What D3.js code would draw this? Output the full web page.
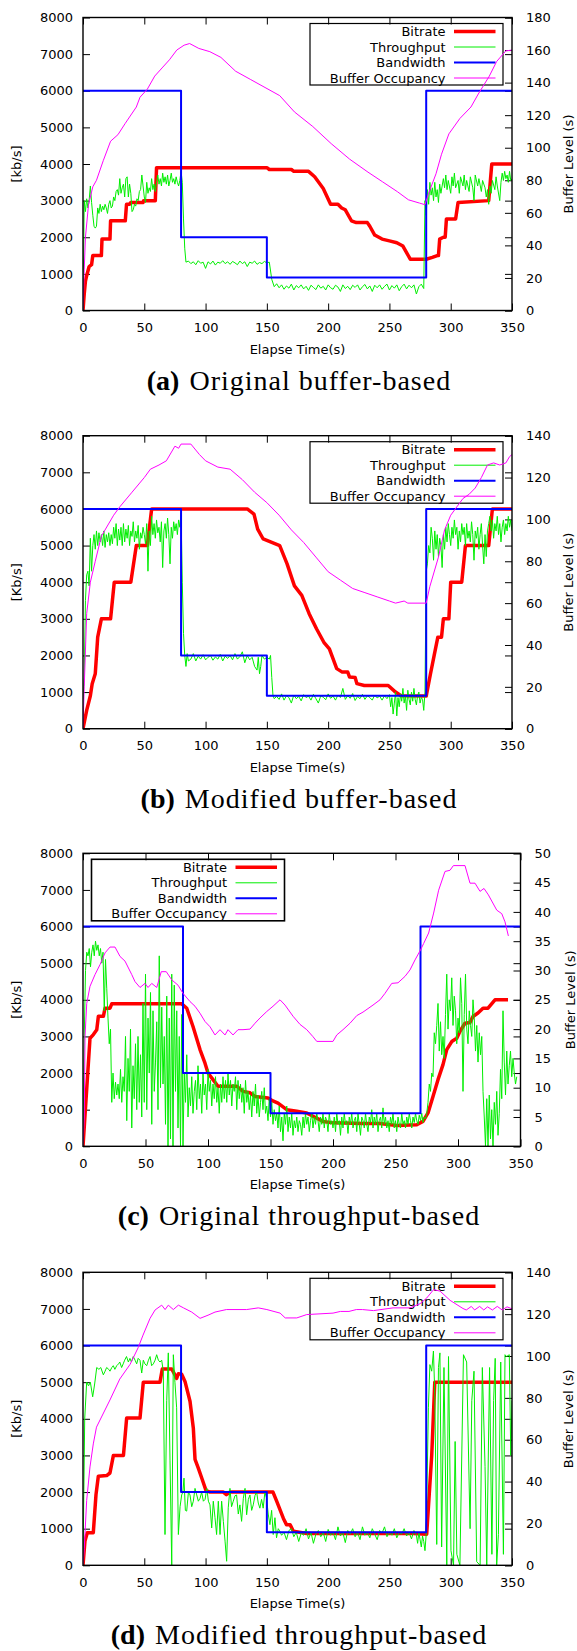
<!DOCTYPE html>
<html>
<head>
<meta charset="utf-8">
<script src="https://cdn.jsdelivr.net/npm/d3@7/dist/d3.min.js"></script>
<style>
  body { margin: 0; background: #fff; }
  text { font-family: "DejaVu Sans", sans-serif; }
</style>
</head>
<body>
<svg id="chart" width="577" height="1651"></svg>
<script>
// ---- data: [time (s), value] ----
const xTicks = [0, 50, 100, 150, 200, 250, 300, 350]
const yTicks = [0, 1000, 2000, 3000, 4000, 5000, 6000, 7000, 8000]
const seriesNames = ["Bitrate", "Throughput", "Bandwidth", "Buffer Occupancy"]

// (a) original buffer-based
const aBitrate = [[0,0],[1,450],[2,800],[3,950],[5,1200],[7,1250],[8,1500],[15,1500],[15.5,1950],[22,1950],[22.5,2450],[34.5,2450],[35.5,2900],[38,2900],[39,2950],[49,2950],[49.5,3000],[59,3000],[60,3900],[150,3900],[152,3850],[170,3850],[172,3800],[184,3800],[189,3650],[196,3330],[202,2900],[208,2900],[211,2800],[214,2750],[219,2450],[223,2400],[232,2400],[234,2300],[238,2060],[244,1950],[250,1900],[256,1850],[261,1760],[267,1400],[280,1400],[285,1450],[289,1500],[290,1500],[291,1950],[294,2000],[295.5,2000],[296.5,2500],[304,2500],[306,2950],[331,3000],[333.5,4000],[350,4000]]
const aThroughput = [[0,0],[1,3000],[2,2700],[3,3050],[4,2800],[5,3000],[6,3400],[7,2950],[8,2600],[9,2300],[10,2250],[11,2300],[12,2800],[13,2650],[14,2900],[15,2700],[16,2850],[17,2750],[18,2900],[19,2800],[20,2650],[21,2900],[22,3000],[23,2800],[24,2850],[25,3100],[26,3000],[27,3250],[28,3300],[29,3150],[30,3600],[31,3200],[32,3350],[33,3450],[34,3100],[35,3600],[36,3650],[37,3100],[38,3450],[39,3200],[40,2700],[41,2750],[42,2900],[43,2850],[44,3050],[45,3000],[46,3250],[47,3300],[48,3700],[49,3400],[50,3100],[51,2950],[52,3500],[53,3200],[54,3350],[55,3250],[56,3600],[57,3300],[58,3450],[59,3250],[60,3500],[61,3700],[62,3450],[63,3600],[64,3400],[65,3750],[66,3500],[67,3650],[68,3450],[69,3700],[70,3400],[71,3550],[72,3750],[73,3500],[74,3600],[75,3450],[76,3650],[77,3500],[78,3400],[79,3550],[80,3800],[81,3500],[82,2500],[83,1700],[84,1320],[86,1350],[88,1280],[90,1330],[92,1250],[94,1360],[96,1290],[98,1320],[100,1150],[102,1330],[104,1270],[106,1350],[108,1240],[110,1320],[112,1290],[114,1360],[116,1280],[118,1330],[120,1260],[122,1340],[124,1300],[126,1250],[128,1350],[130,1280],[132,1330],[134,1200],[136,1320],[138,1290],[140,1350],[142,1260],[144,1310],[146,1280],[148,1340],[150,1300],[152,1320],[154,850],[156,650],[158,730],[160,620],[162,700],[164,580],[166,670],[168,610],[170,720],[172,560],[174,680],[176,620],[178,700],[180,590],[182,660],[184,550],[186,690],[188,630],[190,570],[192,700],[194,610],[196,660],[198,560],[200,700],[202,620],[204,580],[206,690],[208,640],[210,520],[212,700],[214,600],[216,660],[218,570],[220,690],[222,630],[224,700],[226,560],[228,650],[230,710],[232,590],[234,670],[236,520],[238,690],[240,620],[242,700],[244,580],[246,660],[248,720],[250,560],[252,680],[254,610],[256,700],[258,540],[260,650],[262,720],[264,590],[266,690],[268,620],[270,700],[272,450],[274,650],[276,720],[278,600],[279,3000],[280,2600],[281,3300],[282,2900],[283,3500],[284,3150],[285,3350],[286,3000],[287,3500],[288,3100],[289,3300],[290,2950],[291,3450],[292,3200],[294,3600],[295,3350],[296,3700],[297,3300],[298,3550],[300,3200],[301,3650],[302,3400],[303,3750],[304,3350],[306,3550],[307,3200],[308,3650],[310,3400],[311,3700],[312,3300],[313,3550],[315,3250],[316,3650],[318,3350],[319,3000],[320,3700],[322,3400],[323,3600],[325,3250],[326,3550],[328,3350],[329,3100],[330,3300],[331,2900],[332,3400],[333,3200],[334,3550],[336,3300],[337,3650],[338,3400],[340,3000],[341,3500],[342,3750],[343,3550],[344,3800],[345,3600],[346,3700],[347,3500],[348,3800],[349,3550],[350,3600]]
const aBandwidth = [[0,6000],[80,2000],[150,900],[280,6000],[350,6000]]
const aBuffer = [[0,0],[1,25],[2,45],[4.5,65],[8,76],[11,80],[16.5,92],[22.5,104],[28.5,108],[34.5,115],[43.5,125],[46.5,131],[52.5,136],[58.5,144],[64.5,149],[70.5,154],[76.5,160],[82.5,163],[87,164],[94.5,161],[103.5,159],[112.5,155.5],[124.5,147],[136.5,142],[148.5,137],[160.5,132],[172.5,122],[187.5,113],[202.5,102.5],[217.5,93],[232.5,85],[244.5,79],[256.5,73],[265.5,68],[274.5,66],[279,65],[282,72],[288,84],[292.5,96],[298.5,108.5],[307.5,118],[316.5,125],[322.5,133],[331.5,144],[337.5,153],[345,159.5],[350,160]]

// (b) modified buffer-based
const bBitrate = [[0,0],[3,500],[6,900],[7.5,1230],[10,1500],[12,2500],[15,3000],[22.5,3000],[25.5,4000],[39,4000],[43.5,5000],[52.5,5000],[56,6000],[134,6000],[139.5,5860],[142.5,5450],[147,5180],[151.5,5120],[160.5,5000],[166.5,4500],[172.5,3900],[178.5,3640],[184.5,3140],[190.5,2730],[196.5,2360],[201,2180],[207,1640],[211.5,1545],[216,1545],[217.5,1410],[222,1400],[223.5,1230],[229.5,1180],[249,1180],[255,1000],[259.5,900],[280,890],[283.5,1500],[286.5,2000],[289.5,2500],[292.5,2500],[294,3000],[298.5,3000],[300,4000],[309,4000],[312,5000],[331,5000],[334,6000],[350,6000]]
const bThroughput = [[0,800],[1,1400],[2,3500],[3,4200],[4,4300],[5,3900],[6,5200],[7,4300],[8,5000],[9,5300],[10,4900],[11,5400],[12,5000],[13,5350],[14,5100],[15,5300],[16,5000],[17,5400],[18,4950],[19,5300],[20,5100],[21,5350],[22,5000],[23,5300],[24,5050],[25,5500],[26,5200],[27,5600],[28,5000],[29,5450],[30,5150],[31,5500],[32,5000],[33,5600],[34,5100],[35,5450],[36,5200],[37,5550],[38,5000],[39,5400],[40,5250],[41,5650],[42,5100],[43,5400],[44,5200],[45,5550],[46,4900],[47,5350],[48,5200],[49,5500],[50,5300],[51,5050],[52,5600],[53,4300],[54,5400],[55,5000],[56,5800],[57,5300],[58,5600],[59,5200],[60,5700],[61,5350],[62,5500],[63,5100],[64,5650],[65,4400],[66,5400],[67,5600],[68,5200],[69,5750],[70,5300],[71,4500],[72,5500],[73,5200],[74,5650],[75,5400],[76,5600],[77,5300],[78,5700],[79,5500],[80,5900],[81,4000],[82,2600],[83,2000],[84,1700],[85,2050],[86,1850],[88,1900],[90,2050],[92,1850],[94,1980],[96,1900],[98,2020],[100,1880],[102,1950],[104,2000],[106,1870],[108,1960],[110,1900],[112,2030],[114,1850],[116,1980],[118,1920],[120,2000],[122,1880],[124,2050],[126,1900],[128,1970],[130,2100],[132,1800],[134,2000],[136,1880],[138,1950],[140,1700],[142,1600],[143,1950],[144,1500],[145,1700],[146,2000],[148,1900],[150,1950],[152,1900],[153,2000],[154,1400],[155,900],[156,820],[158,880],[160,800],[162,950],[164,780],[166,900],[168,850],[170,700],[172,920],[174,820],[176,880],[178,760],[180,930],[182,850],[184,890],[186,780],[188,940],[190,820],[192,700],[194,900],[196,860],[198,790],[200,950],[202,830],[204,890],[206,780],[208,920],[210,850],[212,1100],[214,800],[216,900],[218,830],[220,960],[222,770],[224,880],[226,820],[228,940],[230,800],[232,900],[234,850],[236,780],[238,920],[240,840],[242,890],[244,780],[246,900],[248,820],[250,930],[251,600],[252,850],[253,400],[254,700],[255,1000],[256,350],[257,850],[258,600],[259,950],[260,750],[261,1100],[262,700],[263,900],[264,500],[265,1050],[266,800],[267,650],[268,1000],[269,750],[270,1100],[271,800],[272,650],[273,900],[274,1000],[275,700],[276,850],[277,800],[278,500],[279,1000],[280,4300],[281,4500],[282,5000],[283,4800],[284,5500],[285,5200],[286,4600],[287,5400],[288,4900],[289,5300],[290,4700],[291,5200],[292,5000],[293,4400],[294,5300],[295,4900],[296,5500],[297,5100],[298,5600],[299,5300],[300,5000],[301,5500],[302,5200],[303,5700],[304,5300],[305,5500],[306,4900],[307,5400],[308,5100],[309,5600],[310,5300],[311,5500],[312,5000],[313,5600],[314,5200],[315,5400],[316,5100],[317,5650],[318,5300],[319,4600],[320,5400],[321,5200],[322,5500],[323,4900],[324,5300],[325,5600],[326,5000],[327,4500],[328,5300],[329,4700],[330,5400],[331,5600],[332,5800],[333,5400],[334,5700],[335,5200],[336,5600],[337,5400],[338,5800],[339,5300],[340,5600],[341,5100],[342,5500],[343,5700],[344,5300],[345,5600],[346,5400],[347,5800],[348,5500],[349,5700],[350,5400]]
const bBandwidth = [[0,6000],[80,2000],[150,900],[280,6000],[350,6000]]
const bBuffer = [[0,0],[1,20],[3,55],[6,70],[10,80],[15,92],[25,102],[30,106],[40,113],[50,120],[55,124],[62,126],[68,128],[75,135],[78,134],[80,136],[88,136],[95,131],[100,128],[110,125],[120,124],[130,119],[140,113],[150,108],[160,102],[170,95],[180,89],[190,82],[200,75],[210,71],[220,67],[230,65],[240,63],[250,61],[255,60],[262,61],[265,60],[280,60],[283,68],[290,82],[295,95],[300,102],[305,106],[310,110],[315,112],[320,115],[325,120],[330,126],[335,127],[340,126],[345,127],[348,130],[350,131]]

// (c) original throughput-based
const cBitrate = [[0,0],[5.6,2950],[8.3,3050],[11,3180],[12.3,3550],[16.3,3550],[17.6,3770],[21.6,3770],[23,3890],[79,3890],[83,3770],[88,3270],[93.6,2640],[97.6,2270],[100,2000],[104,1820],[108,1640],[123,1640],[128,1500],[133.6,1460],[137.6,1360],[148,1320],[151,1255],[156,1180],[163,1000],[171,955],[179,910],[184,820],[192,680],[200,640],[224,620],[237.6,620],[251,570],[267,590],[272,680],[276,910],[280,1360],[284,1820],[288,2230],[291,2640],[295,2860],[299,2950],[301.6,3140],[305.6,3360],[309.6,3380],[312,3545],[316,3640],[320,3770],[324,3770],[329.6,4000],[340,4000]]
const cThroughput = [[0,0],[1,3000],[2,4800],[3,5300],[4,5200],[5,5400],[6,4900],[7,5300],[8,5500],[9,5200],[10,5600],[11,5350],[12,5500],[13,5200],[14,5400],[15,5000],[16,5300],[17,3700],[18,5100],[19,4300],[20,3500],[21,2800],[22,3200],[23,1200],[24,2000],[25,1300],[26,1750],[27,1400],[28,1700],[29,1300],[30,2100],[31,1200],[32,1900],[33,1500],[34,3000],[35,700],[36,2400],[37,1500],[38,3200],[39,500],[40,2200],[41,1300],[42,2800],[43,1000],[44,3000],[45,1200],[46,2500],[47,800],[48,3900],[49,1200],[50,4700],[51,1000],[52,3500],[53,2000],[54,4200],[55,600],[56,3700],[57,1500],[58,2300],[59,3400],[60,1000],[61,5200],[62,1600],[63,3800],[64,1700],[65,3000],[66,600],[67,4100],[68,0],[69,3500],[70,200],[71,4700],[72,0],[73,4400],[74,1500],[75,3700],[76,500],[77,3000],[78,0],[79,3600],[80,0],[81,2000],[82,1200],[83,2500],[84,800],[85,1600],[86,1100],[87,1900],[88,900],[89,1500],[90,1800],[91,1000],[92,2200],[93,1300],[94,1700],[95,900],[96,2000],[97,1400],[98,1700],[99,1000],[100,2100],[101,1500],[102,1800],[103,1100],[104,1700],[105,1300],[106,1900],[107,1200],[108,1600],[109,900],[110,1700],[111,1200],[112,1900],[113,1300],[114,1800],[115,1200],[116,2000],[117,1400],[118,1800],[119,1100],[120,1700],[121,1500],[122,1900],[123,1000],[124,1800],[125,1300],[126,1700],[127,1200],[128,1600],[129,900],[130,1800],[131,1200],[132,1500],[133,1000],[134,1400],[135,800],[136,1500],[137,1100],[138,1700],[139,900],[140,1400],[141,800],[142,1200],[143,1500],[144,1000],[145,1600],[146,900],[147,1100],[148,700],[149,1300],[150,800],[151,1200],[152,600],[153,1000],[154,700],[155,900],[156,500],[157,1100],[158,400],[159,800],[160,150],[161,900],[162,600],[163,1100],[164,400],[165,800],[166,500],[167,900],[168,300],[169,700],[170,500],[171,800],[172,400],[173,700],[174,600],[175,300],[176,800],[177,500],[178,900],[179,600],[180,800],[181,400],[182,700],[183,900],[184,500],[185,800],[186,600],[187,900],[188,700],[189,400],[190,800],[191,600],[192,900],[193,500],[194,800],[195,700],[196,400],[197,900],[198,600],[199,700],[200,500],[201,800],[202,400],[203,900],[204,600],[205,700],[206,300],[207,800],[208,500],[209,900],[210,600],[211,700],[212,350],[213,800],[214,600],[215,900],[216,500],[217,700],[218,800],[219,400],[220,900],[221,600],[222,300],[223,800],[224,700],[225,500],[226,900],[227,600],[228,400],[229,800],[230,650],[231,1000],[232,500],[233,800],[234,600],[235,900],[236,400],[237,700],[238,800],[239,500],[240,1050],[241,600],[242,800],[243,500],[244,700],[245,400],[246,800],[247,600],[248,900],[249,500],[250,700],[251,400],[252,800],[253,600],[254,500],[255,900],[256,600],[257,700],[258,500],[259,800],[260,600],[261,900],[262,700],[263,500],[264,800],[265,650],[266,900],[267,700],[268,600],[269,850],[270,700],[271,900],[272,650],[273,800],[274,750],[275,900],[276,1200],[277,1700],[278,1500],[279,2000],[280,1900],[281,3100],[282,2800],[283,3300],[284,3900],[285,2600],[286,3400],[287,2500],[288,3000],[289,2400],[290,3600],[291,4700],[292,3200],[293,4000],[294,3700],[295,4600],[296,3300],[297,4100],[298,3700],[299,2800],[300,3500],[301,3100],[302,4600],[303,3900],[304,1500],[305,3600],[306,4700],[307,3200],[308,2800],[309,3700],[310,3300],[311,3000],[312,4000],[313,3500],[314,2600],[315,3300],[316,2300],[317,3100],[318,2500],[319,3000],[320,1500],[321,800],[322,0],[323,1300],[324,0],[325,1400],[326,200],[327,1000],[328,0],[329,1200],[330,600],[331,1500],[332,300],[333,900],[334,2100],[335,1300],[336,3700],[337,2300],[338,1400],[339,2600],[340,1700],[341,2200],[342,2600],[343,1900],[344,2400],[345,2000],[346,1700],[347,1900]]
const cBandwidth = [[0,6000],[80,2000],[150,900],[270,6000],[350,6000]]
const cBuffer = [[0,0],[1,5],[1.6,18.7],[3,24.4],[5.6,27.3],[9.6,29.3],[13.6,31],[17.6,33],[21.6,34],[25.6,34],[29.6,32.4],[33.6,31.6],[39,29.3],[41.6,28.1],[45.6,27.1],[49.6,27.8],[52,27.1],[55,27.8],[59,27.1],[62.6,29.8],[66.6,29.8],[71,28.4],[76,27.5],[80,26.1],[85.6,24.7],[89.6,23.9],[93.6,22.7],[97.6,21.3],[101.6,20.4],[105.6,19],[109.6,19.9],[113.6,19],[116,19.9],[120,19],[124,19.9],[128,19.9],[133.6,20],[137.6,21],[141.6,21.9],[147,23],[152,23.9],[157.6,25],[161.6,24.1],[168,22.2],[173.6,20.8],[179,19.9],[184,18.7],[187,17.9],[200,17.9],[203,19],[208,19.9],[213.6,21],[219,22.3],[224,22.9],[232,24.1],[237.6,25],[241.6,26.1],[247,27.8],[252,27.9],[257.6,29],[261.6,30.1],[265.6,31.8],[270,33.5],[272.5,34.6],[276.5,36.4],[280.5,39.8],[284.5,43.7],[289.6,46.9],[293.6,47.1],[296.3,47.9],[305.6,47.9],[309.6,44.9],[313.6,44.9],[317.6,43.5],[320.8,44],[324.3,42.9],[331,40.3],[335,39.7],[337.6,38.3],[340.3,35.9]]

// (d) modified throughput-based
const dBitrate = [[0,0],[1.6,660],[3.5,890],[8.4,890],[10.6,1930],[12.5,2430],[19.3,2450],[22,2520],[24.8,3000],[33,3000],[35.6,4020],[46.5,4020],[49.2,5000],[62.8,5000],[64.7,5360],[72.4,5360],[75,5200],[76.4,5100],[77.8,5230],[80.5,5220],[83.2,5020],[87.3,4480],[90,3750],[91.4,2890],[94,2660],[96.8,2390],[100.4,2040],[103.6,2000],[114.5,2000],[117,1930],[120,2000],[155,2000],[158,1750],[163.5,1280],[166,1110],[169,1110],[171.6,930],[182.5,870],[269.5,870],[280.4,850],[284.5,3000],[287,5000],[350,5000]]
const dThroughput = [[0,0],[1.4,4000],[3,5000],[4.5,4900],[6,5000],[7.9,4600],[9.5,4950],[11.2,5400],[13,5350],[14.5,5400],[16.6,5200],[18,5300],[19.3,5400],[21,5350],[22,5300],[23.5,5400],[24.7,5450],[26,5350],[27.5,5450],[29,5500],[30,5550],[31.5,5400],[32.8,5500],[34,5600],[35.5,5700],[37,5550],[38.3,5650],[39.5,5550],[41,5700],[42.5,5600],[43.8,5500],[45,5650],[46.5,5600],[47.9,5250],[49.2,5600],[50.5,5500],[52,5450],[53.4,5600],[54.7,5700],[56,5450],[57.4,5500],[58.8,5600],[60.1,5750],[61.5,5600],[62.8,5550],[64.2,5600],[65.5,5300],[66.9,840],[68.3,4500],[69.6,5800],[71,2850],[72.4,0],[73.7,5750],[75,5000],[76.4,4300],[77.8,840],[79.2,1600],[80.5,1920],[81.5,2000],[82.4,2380],[83.5,1500],[84.6,1480],[86,2000],[87.3,1920],[88.7,1600],[90,1750],[91.4,2100],[92.8,1920],[94.1,1750],[95.5,1830],[96.8,2000],[98.2,1750],[99.6,1800],[101,2100],[102.3,1750],[103.6,1650],[105,1020],[106.3,1750],[107.7,1300],[109,840],[110.4,1750],[111.8,840],[113.1,1750],[114.5,1200],[115.9,660],[117.2,110],[118.5,1570],[119.9,2100],[121.2,1600],[122.6,1750],[124,1900],[125.3,1920],[126.7,1400],[128,1650],[129.4,1200],[130.8,1830],[132.2,2100],[133.5,1380],[134.9,1800],[136.2,1920],[137.6,1500],[138.9,1650],[140.3,1900],[141.6,2010],[143,1700],[144.3,1560],[145.7,1800],[147,1560],[148.4,2000],[149.8,1830],[151.1,1400],[152.5,1110],[153.9,1500],[155.2,840],[156.6,1300],[157.9,750],[159.3,1000],[160.6,930],[162,820],[164,900],[166,700],[168,950],[170,1000],[172,780],[174,900],[176,650],[178,880],[180,820],[182,1000],[184,720],[186,900],[188,600],[190,850],[192,950],[194,780],[196,900],[198,650],[200,980],[202,820],[204,900],[206,700],[208,1050],[210,800],[212,900],[214,620],[216,950],[218,850],[220,1000],[222,780],[224,900],[226,700],[228,1050],[230,820],[232,900],[234,750],[236,1000],[238,850],[240,700],[242,950],[244,880],[246,1050],[248,780],[250,900],[252,820],[254,1000],[256,750],[258,900],[260,850],[262,1000],[264,800],[266,900],[268,720],[270,950],[272,820],[273,600],[274,900],[275,700],[276,500],[277,800],[278,650],[279,400],[280,850],[281.8,4300],[283,5480],[284.5,5300],[285.9,5850],[287,4700],[288.6,570],[290,5400],[291.2,5800],[292.6,500],[294.5,5400],[296.8,0],[298.2,5700],[300.2,400],[302.3,0],[303.6,3380],[305,300],[307.5,0],[310.4,5750],[313,5550],[315.8,1000],[317.2,4500],[319,5300],[321.2,100],[324,0],[325.8,5400],[328,2700],[329.4,0],[331.7,5400],[333.6,300],[335,4500],[336.3,5650],[337.5,0],[338.9,840],[340.8,5550],[343,300],[344.3,5750],[345.6,5700],[347.8,5750],[349,3000],[350,4500]]
const dBandwidth = [[0,6000],[80,2000],[150,900],[280,6000],[350,6000]]
const dBuffer = [[0,0],[1,8],[3,31],[5.7,47],[8.4,58],[11,66],[22,79],[30,89],[38.4,96],[45,104],[49,110],[54.7,118],[58.8,122],[64.2,124.3],[67,122.2],[69.6,124.3],[73.7,122.2],[77.8,124.3],[82,123],[88.7,121],[95.5,118],[102,119.5],[107.7,121],[117,122.2],[133.5,122.2],[143,123],[150,122.2],[160.8,120.5],[165,118.2],[174.4,118.2],[182.5,119.8],[204,120.5],[210,121.3],[217,121.3],[223,122.2],[228,122.2],[237,121.7],[253,123],[266.7,123],[275,125],[280.4,127.7],[286,131.7],[291.3,131],[299.5,126.6],[310,122.7],[312.7,122],[316.8,123.7],[319.5,122],[323.6,123.7],[327,122],[330,123.5],[334,122],[338,123.7],[342,122],[346,123.5],[350,122.5]]

// ---- layout ----
const colors = ["#ff0000", "#00ee00", "#0000ff", "#ff00ff"]
const widths = [3.5, 1, 2, 1]

const panels = [
    { top: 17.5, right: 512, y2max: 180, y2step: 20, ylabel: "[kb/s]", tag: "(a)", caption: "Original buffer-based",
      series: [aBitrate, aThroughput, aBandwidth, aBuffer], legendLeft: false },
    { top: 435.7, right: 512, y2max: 140, y2step: 20, ylabel: "[Kb/s]", tag: "(b)", caption: "Modified buffer-based",
      series: [bBitrate, bThroughput, bBandwidth, bBuffer], legendLeft: false },
    { top: 853.3, right: 520.5, y2max: 50, y2step: 5, ylabel: "[Kb/s]", tag: "(c)", caption: "Original throughput-based",
      series: [cBitrate, cThroughput, cBandwidth, cBuffer], legendLeft: true },
    { top: 1272.3, right: 512, y2max: 140, y2step: 20, ylabel: "[Kb/s]", tag: "(d)", caption: "Modified throughput-based",
      series: [dBitrate, dThroughput, dBandwidth, dBuffer], legendLeft: false },
]

const svg = d3.select("#chart")
const left = 83
const plotH = 293
const tick = 7
const fmt = d3.format("d")

panels.forEach((p, i) => drawPanel(p, i))

function drawPanel(p, i) {
    const bottom = p.top + plotH
    const x = d3.scaleLinear().domain([0, 350]).range([left, p.right])
    const y = d3.scaleLinear().domain([0, 8000]).range([bottom, p.top])
    const y2 = d3.scaleLinear().domain([0, p.y2max]).range([bottom, p.top])
    const y2Ticks = d3.range(0, p.y2max + 0.001, p.y2step)

    const g = svg.append("g")

    g.append("clipPath").attr("id", "clip" + i)
        .append("rect")
        .attr("x", left).attr("y", p.top)
        .attr("width", p.right - left).attr("height", plotH)

    // axes (ticks pointing inwards, mirrored)
    const styleAxis = (sel) => {
        sel.attr("font-family", null).attr("font-size", null)
        sel.select(".domain").remove()
        sel.selectAll("line").attr("stroke", "#000").attr("stroke-width", 1)
        sel.selectAll("text").attr("font-size", 13).attr("fill", "#000")
    }
    g.append("g").attr("transform", `translate(0,${bottom})`)
        .call(d3.axisBottom(x).tickValues(xTicks).tickFormat(fmt).tickSize(-tick).tickPadding(12))
        .call(styleAxis)
    g.append("g").attr("transform", `translate(0,${p.top})`)
        .call(d3.axisTop(x).tickValues(xTicks).tickSize(-tick).tickFormat(""))
        .call(styleAxis)
    g.append("g").attr("transform", `translate(${left},0)`)
        .call(d3.axisLeft(y).tickValues(yTicks).tickFormat(fmt).tickSize(-tick).tickPadding(10))
        .call(styleAxis)
    g.append("g").attr("transform", `translate(${p.right},0)`)
        .call(d3.axisRight(y).tickValues(yTicks).tickSize(-tick).tickFormat(""))
        .call(styleAxis)
    g.append("g").attr("transform", `translate(${p.right},0)`)
        .call(d3.axisRight(y2).tickValues(y2Ticks).tickFormat(fmt).tickSize(-tick).tickPadding(14))
        .call(styleAxis)

    // legend (drawn under the data, like gnuplot)
    const boxW = 193, boxH = 61.5
    const boxX = p.legendLeft ? left + 8.5 : p.right - 9 - boxW
    const boxY = p.top + 6
    const lg = g.append("g")
    lg.append("rect")
        .attr("x", boxX).attr("y", boxY).attr("width", boxW).attr("height", boxH)
        .attr("fill", "none").attr("stroke", "#000").attr("stroke-width", p.legendLeft ? 1.6 : 1.2)
    seriesNames.forEach((name, k) => {
        const cy = boxY + 8 + k * 15.5
        lg.append("text")
            .attr("x", boxX + 135.5).attr("y", cy)
            .attr("dy", "0.35em")
            .attr("text-anchor", "end")
            .attr("font-size", 13)
            .text(name)
        lg.append("line")
            .attr("x1", boxX + 144).attr("x2", boxX + 185.5)
            .attr("y1", cy).attr("y2", cy)
            .attr("stroke", colors[k]).attr("stroke-width", widths[k])
    })

    // data
    const plot = g.append("g").attr("clip-path", `url(#clip${i})`)
    p.series.forEach((data, k) => {
        const ys = k === 3 ? y2 : y
        const line = d3.line()
            .x(d => x(d[0]))
            .y(d => ys(d[1]))
            .curve(k === 2 ? d3.curveStepAfter : d3.curveLinear)
        plot.append("path")
            .datum(data)
            .attr("d", line)
            .attr("fill", "none")
            .attr("stroke", colors[k])
            .attr("stroke-width", widths[k])
            .attr("stroke-linejoin", "round")
    })

    // frame
    g.append("rect")
        .attr("x", left).attr("y", p.top)
        .attr("width", p.right - left).attr("height", plotH)
        .attr("fill", "none").attr("stroke", "#000").attr("stroke-width", 1.4)

    // axis titles
    const midY = p.top + plotH / 2
    g.append("text")
        .attr("transform", `translate(16.5,${midY}) rotate(-90)`)
        .attr("text-anchor", "middle").attr("dy", "0.35em")
        .attr("font-size", 13)
        .text(p.ylabel)
    g.append("text")
        .attr("transform", `translate(${p.legendLeft ? 570 : 568},${midY}) rotate(-90)`)
        .attr("text-anchor", "middle").attr("dy", "0.35em")
        .attr("font-size", 13)
        .text("Buffer Level (s)")
    g.append("text")
        .attr("x", (left + 512) / 2).attr("y", p.top + 336)
        .attr("text-anchor", "middle")
        .attr("font-size", 13)
        .text("Elapse Time(s)")

    // caption
    const cap = g.append("text")
        .attr("x", 299).attr("y", p.top + 372)
        .attr("text-anchor", "middle")
        .style("font-family", "'Liberation Serif', serif")
        .attr("font-size", 28)
    cap.append("tspan").attr("font-weight", "bold").text(p.tag)
    cap.append("tspan").attr("dx", 10).attr("letter-spacing", 1).text(p.caption)
}
</script>
</body>
</html>
